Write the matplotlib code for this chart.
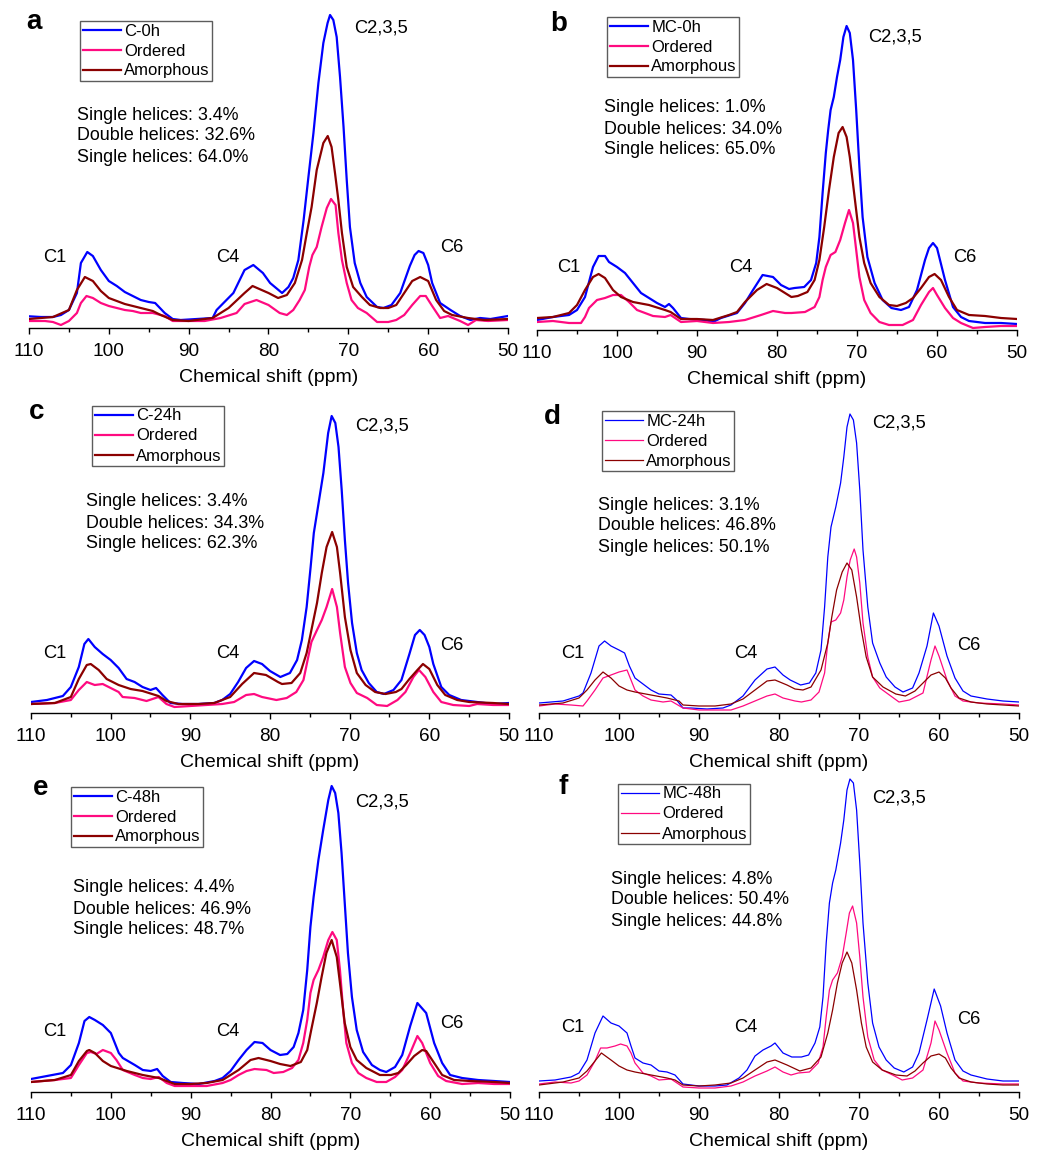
import matplotlib
matplotlib.use("Agg")
import matplotlib.pyplot as plt
import numpy as np

plt.rcParams['font.family'] = ['Liberation Sans', 'DejaVu Sans']

W, H = 1043, 1151

# intensities (a.u., height above the axis line)
a_sample = [(110, 11.7), (108.5, 11), (107, 11), (106, 13), (105, 18), (104, 35), (103.5, 65), (102.7, 76),
            (102, 72), (101, 58), (100, 47), (99, 42), (98, 36), (97, 32), (96, 28), (95, 26), (94.2, 25),
            (93, 15), (92, 9), (91, 8), (89, 9), (87, 10), (86.5, 18), (84.4, 35), (83, 58), (81.9, 63),
            (80.7, 55), (79.8, 45), (78.3, 35), (77.5, 41), (76.9, 50), (76.26, 68), (75.6, 108), (75.0, 151),
            (74.37, 195), (73.75, 245), (73.13, 285), (72.6, 305), (72.29, 313), (71.88, 308), (71.46, 291),
            (71.04, 251), (70.6, 201), (70.2, 148), (69.8, 101), (69.2, 65), (68.5, 45), (67.7, 31), (66.4, 21),
            (65.6, 20), (64.6, 23), (63.5, 35), (62.3, 62), (61.7, 73), (61.2, 77), (60.6, 75), (60, 63),
            (59.5, 45), (58.5, 25), (57.2, 18), (56, 12), (54.7, 8), (53.5, 10), (52.2, 9), (50, 12)]
a_ordered = [(110, 7), (108, 7), (107, 6), (106, 3), (105, 7), (104, 15), (103.5, 25), (102.8, 32), (102, 30),
             (101, 25), (100, 22), (98, 18), (97, 17), (96, 15), (94.5, 15), (93, 12), (92, 7), (90, 7), (88, 7),
             (86, 10), (84, 15), (83, 24), (81.5, 28), (80, 23), (78.6, 15), (77.7, 13), (76.9, 18), (76.1, 28),
             (75.45, 38), (74.9, 61), (74.5, 73), (73.96, 81), (73.35, 101), (72.7, 120), (72.17, 129),
             (71.6, 123), (71.25, 95), (70.8, 68), (70.2, 45), (69.6, 28), (68.8, 20), (67.7, 15), (66.4, 6),
             (65, 6), (64, 8), (63, 13), (62, 23), (61, 32), (60.3, 32), (59.5, 22), (58.5, 10), (57.5, 12),
             (56, 7), (55, 3), (54, 8), (52.5, 7), (50, 8)]
a_amorph = [(110, 9), (107, 11), (105, 18), (104, 38), (103, 51), (102, 47), (101, 37), (100, 30), (99, 27),
            (98, 24), (96, 20), (94.5, 17), (93.5, 13), (92, 8), (90, 7), (87, 10), (85, 20), (83, 35), (82, 42),
            (80, 35), (78.8, 30), (77.7, 33), (76.7, 45), (75.8, 68), (75.2, 95), (74.6, 121), (73.96, 158),
            (73.13, 185), (72.58, 192), (72.1, 181), (71.67, 155), (71.25, 128), (70.8, 95), (70.2, 61),
            (69.4, 41), (68.3, 31), (67.3, 23), (66, 20), (65, 20), (64, 23), (63, 35), (62, 47), (61, 51),
            (60, 47), (59, 28), (58, 17), (57, 13), (55, 10), (53, 8), (50, 9)]

b_sample = [(110, 10), (108, 13), (106, 15), (105, 20), (104, 33), (103, 63), (102.3, 74), (101.5, 74),
            (101, 68), (100, 63), (99, 57), (98, 47), (97, 37), (96, 32), (95, 27), (94, 23), (93.5, 26),
            (93, 22), (92, 12), (91, 11), (89, 10), (88, 8), (87, 12), (85, 17), (84, 27), (83, 40), (81.8, 55),
            (80.5, 53), (79.5, 45), (78.5, 41), (77.8, 42), (76.6, 43), (75.75, 50), (75.1, 67), (74.7, 93),
            (74.3, 137), (73.9, 177), (73.6, 200), (73.3, 220), (72.9, 233), (72.5, 253), (72.1, 270),
            (71.7, 293), (71.3, 304), (70.9, 297), (70.5, 270), (70.1, 220), (69.7, 163), (69.3, 113),
            (68.7, 73), (67.8, 47), (66.8, 30), (65.7, 22), (64.5, 20), (63.5, 23), (62.5, 40), (61.5, 70),
            (61, 82), (60.5, 87), (60, 82), (59, 50), (58, 23), (57, 13), (56, 9), (54, 7), (52, 7), (50, 6)]
b_ordered = [(110, 8), (108, 9), (106, 7), (104.5, 7), (104, 13), (103.5, 22), (102.5, 30), (101.5, 32),
             (100.5, 35), (99.5, 35), (98.5, 28), (97.5, 20), (96.5, 17), (95.5, 14), (94, 13), (93.3, 15),
             (92, 8), (90, 9), (88, 7), (86, 8), (84, 10), (82, 15), (80.5, 19), (79, 17), (78.2, 17),
             (76.5, 18), (75.3, 23), (74.7, 33), (74.3, 50), (73.9, 63), (73.3, 75), (72.7, 78), (72.1, 90),
             (71.5, 107), (71, 120), (70.5, 107), (70.1, 80), (69.7, 53), (69.1, 30), (68.3, 17), (67.2, 8),
             (66, 5), (64.3, 5), (63, 10), (62, 25), (61, 38), (60.5, 42), (60, 35), (59, 22), (58, 12), (57, 7),
             (55.5, 2), (54, 3), (52, 4), (50, 4)]
b_amorph = [(110, 12), (108, 13), (106, 17), (105, 25), (104, 40), (103, 53), (102.3, 56), (101.5, 52),
            (100.5, 40), (99.5, 33), (98, 28), (96, 25), (94, 20), (93.3, 18), (92, 11), (90, 11), (88, 10),
            (86, 15), (85, 18), (84, 28), (82.5, 40), (81.3, 46), (80, 42), (78.2, 33), (77.4, 34), (76.2, 38),
            (75.3, 50), (74.7, 70), (74.1, 103), (73.5, 140), (72.9, 173), (72.3, 197), (71.8, 203),
            (71.3, 193), (70.9, 173), (70.3, 133), (69.7, 93), (69.1, 67), (68.3, 47), (67.2, 33), (66, 25),
            (65, 24), (63.9, 27), (63, 32), (62, 42), (61, 53), (60.3, 56), (59.5, 50), (58.5, 33), (57.5, 20),
            (56, 15), (54, 14), (52, 12), (50, 11)]

c_sample = [(110, 11), (108, 13), (106, 17), (105, 26), (104, 46), (103.3, 69), (102.8, 74), (102, 66),
            (101, 59), (100, 53), (99, 45), (98, 34), (97, 31), (96, 26), (95, 23), (94.3, 25), (93.5, 18),
            (92.5, 10), (91, 9), (89, 9), (87, 10), (86, 13), (85, 19), (84, 31), (83, 45), (82, 52), (81, 49),
            (80, 42), (78.7, 36), (77.5, 40), (76.6, 53), (76, 73), (75.4, 106), (74.9, 146), (74.5, 180),
            (73.9, 210), (73.3, 240), (72.7, 280), (72.26, 297), (71.8, 290), (71.4, 266), (71, 223),
            (70.6, 173), (70.2, 130), (69.7, 90), (69.1, 60), (68.5, 43), (67.6, 30), (66.6, 21), (65.7, 19),
            (64.5, 23), (63.5, 33), (62.5, 59), (61.8, 78), (61.2, 83), (60.6, 78), (60, 66), (59.5, 49),
            (58.5, 26), (57.5, 18), (56, 13), (54, 11), (52, 9), (50, 10)]
c_ordered = [(110, 9), (107, 10), (105, 13), (104, 23), (103, 31), (102, 28), (101, 29), (100, 25), (99, 21),
             (98.5, 16), (97, 15), (95.5, 12), (94, 16), (93, 9), (92, 6), (90, 7), (88, 8), (86, 9), (84.5, 11),
             (83, 18), (82, 19), (81, 16), (79.2, 13), (77.9, 15), (76.7, 21), (75.8, 33), (75.2, 56),
             (74.8, 71), (74.1, 83), (73.5, 93), (72.9, 106), (72.2, 124), (71.6, 106), (71.2, 80), (70.6, 46),
             (69.9, 30), (69.1, 20), (67.8, 15), (66.6, 8), (65.3, 7), (64, 13), (63, 21), (62, 36), (61.3, 43),
             (60.5, 36), (59.5, 21), (58.5, 11), (57, 8), (55, 7), (54, 9), (52, 8), (50, 8)]
c_amorph = [(110, 9), (107, 10), (105, 16), (104, 34), (103, 48), (102.5, 49), (101.5, 43), (100.5, 34),
            (99, 28), (97.5, 24), (96, 22), (94, 17), (93, 12), (91.5, 9), (89, 9), (87, 10), (85, 16),
            (83.5, 29), (82, 40), (80.5, 38), (79, 31), (78.5, 29), (77.3, 30), (76.2, 40), (75.4, 60),
            (74.8, 83), (74.1, 110), (73.5, 140), (72.9, 166), (72.2, 181), (71.6, 166), (71.2, 140),
            (70.6, 96), (69.9, 63), (69.1, 40), (68, 28), (66.8, 21), (65.5, 19), (64.2, 21), (63.5, 24),
            (62.5, 34), (61.5, 43), (60.8, 49), (60, 44), (59, 28), (58, 18), (56.5, 13), (55, 11), (52, 10),
            (50, 9)]

d_sample = [(110, 10), (107, 12), (105, 17), (104.5, 20), (103.5, 40), (102.5, 67), (101.8, 72), (101, 67),
            (100, 63), (99.3, 60), (98.7, 47), (98, 35), (97, 29), (96, 23), (95, 19), (93.5, 18), (92.8, 13),
            (92, 5), (91, 5), (89, 4), (87, 5), (86, 8), (84.5, 17), (83, 33), (81.5, 44), (80.5, 46),
            (79.5, 38), (78.6, 33), (77.3, 28), (76.2, 30), (75.4, 40), (74.75, 63), (74.3, 106), (73.9, 156),
            (73.5, 186), (72.9, 206), (72.3, 230), (71.9, 256), (71.5, 286), (71.13, 299), (70.7, 293),
            (70.3, 270), (69.9, 223), (69.5, 163), (68.9, 106), (68.3, 70), (67.4, 50), (66.6, 36), (65.5, 26),
            (64.5, 21), (63.3, 25), (62.5, 40), (61.5, 67), (60.7, 100), (60, 87), (59, 57), (58, 35), (57, 22),
            (56, 17), (54, 14), (52, 12), (50, 11)]
d_ordered = [(110, 7), (108, 9), (106, 8), (104.5, 7), (104, 12), (103, 23), (102, 35), (101, 38), (100, 41),
             (99, 43), (98.5, 33), (98, 23), (97, 17), (96, 13), (94.5, 11), (93.5, 12), (92, 5), (90, 3),
             (88, 3), (86, 3), (84.5, 7), (83, 12), (81.5, 17), (80.5, 19), (79.5, 15), (78, 12), (77.2, 11),
             (76, 13), (75, 21), (74.3, 40), (73.9, 70), (73.5, 91), (72.9, 93), (72.3, 100), (71.9, 113),
             (71.5, 136), (71.1, 153), (70.6, 164), (70.3, 156), (69.9, 130), (69.5, 90), (68.9, 56),
             (68.3, 36), (67.4, 25), (66.2, 18), (65, 11), (63.7, 13), (62, 20), (61, 53), (60.5, 67), (60, 57),
             (59, 33), (58, 17), (57, 12), (55, 10), (52, 9), (50, 8)]
d_amorph = [(110, 8), (107, 10), (105, 15), (104, 23), (103, 33), (102, 41), (101, 35), (100, 27), (99, 23),
            (98, 21), (96, 18), (94, 15), (92.5, 12), (92, 8), (90, 7), (88, 7), (86, 9), (84.5, 14), (83, 23),
            (81.5, 32), (80.5, 33), (79, 28), (78, 24), (77, 23), (76, 26), (74.75, 43), (73.9, 70),
            (73.4, 96), (72.8, 123), (72.1, 141), (71.5, 150), (70.9, 143), (70.3, 116), (69.7, 83), (69.1, 56),
            (68.3, 36), (67, 26), (65.4, 19), (64.2, 17), (63, 22), (62, 30), (61, 38), (60, 41), (59.2, 35),
            (58.5, 25), (57.5, 15), (56, 11), (54, 9), (52, 8), (50, 7)]

e_sample = [(110, 13), (108, 16), (106, 19), (105, 27), (104, 49), (103.3, 71), (102.7, 75), (102, 72),
            (101, 67), (100, 59), (99, 39), (98.5, 34), (97, 27), (96, 22), (95, 21), (94.2, 23), (93.5, 16),
            (92.5, 10), (91, 9), (89, 8), (87, 11), (86, 14), (85, 21), (84, 32), (83, 42), (82, 50), (81, 49),
            (80, 42), (78.8, 37), (77.9, 38), (77.1, 45), (76.5, 59), (75.9, 82), (75.4, 122), (75.0, 165),
            (74.6, 195), (74.0, 232), (73.4, 262), (72.76, 292), (72.34, 306), (71.9, 299), (71.5, 279),
            (71.1, 239), (70.7, 189), (70.3, 139), (69.8, 95), (69.2, 62), (68.4, 40), (67.3, 27), (66.3, 22),
            (65.5, 20), (64.4, 25), (63.5, 37), (62.5, 66), (61.6, 89), (60.5, 79), (59.5, 49), (58.5, 29),
            (57.5, 17), (56, 14), (54, 12), (52, 11), (50, 10)]
e_ordered = [(110, 10), (107, 12), (105, 14), (104, 27), (103, 39), (102.5, 40), (101.8, 38), (101, 42),
             (100, 39), (99.3, 32), (98.5, 22), (97, 17), (96, 14), (95, 13), (94, 15), (93, 9), (92, 6),
             (90, 6), (88, 6), (86, 9), (85, 12), (84, 17), (83, 21), (82, 23), (80.5, 22), (79.6, 19),
             (78.4, 20), (77.3, 24), (76.5, 32), (75.9, 49), (75.4, 72), (75.0, 99), (74.6, 112), (74.0, 122),
             (73.4, 135), (72.76, 152), (72.25, 160), (71.7, 152), (71.3, 122), (70.9, 82), (70.5, 49),
             (69.8, 29), (69, 19), (68, 14), (66.7, 10), (65.5, 10), (64.4, 15), (63.5, 22), (62.5, 39),
             (61.6, 56), (61, 49), (60, 29), (59, 16), (58, 11), (56, 8), (54, 9), (52, 8), (50, 8)]
e_amorph = [(110, 10), (107, 12), (105, 17), (104, 31), (103, 41), (102.7, 42), (102, 39), (101, 31),
            (100, 26), (98, 21), (96, 17), (94, 14), (93, 11), (92, 8), (90, 8), (88, 9), (86, 12), (84, 22),
            (82.5, 32), (81.5, 34), (80, 31), (78.8, 28), (77.5, 26), (76.2, 30), (75.4, 42), (74.9, 62),
            (74.2, 89), (73.6, 115), (73, 139), (72.34, 152), (71.7, 135), (71.3, 109), (70.7, 69), (70, 45),
            (69.2, 32), (68, 24), (66.3, 17), (64.9, 17), (64, 19), (63, 27), (62, 36), (61, 42), (60.5, 41),
            (59.5, 29), (58.5, 17), (57, 12), (55, 11), (52, 10), (50, 9)]

f_sample = [(110, 11), (108, 12), (106, 15), (105, 19), (104, 32), (103, 59), (102, 76), (101, 69), (100, 66),
            (99, 59), (98.5, 46), (98, 34), (97, 29), (96, 27), (95, 21), (94, 20), (93, 17), (92, 8), (90, 6),
            (88, 6), (86.5, 7), (85, 14), (84, 22), (83, 36), (82, 42), (81, 46), (80.5, 49), (79.5, 39),
            (78.4, 35), (77.2, 35), (76.3, 37), (75.5, 49), (74.9, 65), (74.5, 95), (74.1, 149), (73.7, 189),
            (73.3, 209), (72.9, 222), (72.3, 249), (71.9, 272), (71.5, 302), (71.13, 313), (70.7, 309),
            (70.3, 282), (69.9, 229), (69.5, 169), (68.9, 109), (68.3, 69), (67.5, 45), (66.6, 32), (65.6, 24),
            (64.4, 20), (63.3, 25), (62.5, 39), (61.5, 72), (60.6, 103), (59.8, 86), (59, 59), (58, 32),
            (57, 21), (56, 17), (54, 13), (52, 11), (50, 11)]
f_ordered = [(110, 8), (108, 10), (106, 9), (105, 11), (104, 17), (103, 31), (102.3, 44), (101.5, 44),
             (100.5, 46), (99.8, 48), (99, 46), (98.5, 39), (98, 29), (97, 19), (96, 16), (95, 12), (93.5, 13),
             (92, 5), (90, 4), (88, 4), (86, 6), (84.5, 10), (83, 16), (81.5, 21), (80.5, 25), (79.5, 20),
             (78.5, 17), (77.6, 19), (76.2, 20), (75.1, 29), (74.5, 45), (74.1, 75), (73.7, 102), (73.3, 112),
             (72.7, 119), (72.1, 135), (71.6, 159), (71.2, 179), (70.8, 186), (70.3, 169), (69.9, 135),
             (69.5, 95), (68.9, 55), (68.1, 32), (67.1, 22), (65.8, 17), (64.6, 12), (63.3, 14), (62, 22),
             (61, 49), (60.5, 71), (60, 62), (59, 39), (58, 19), (57, 11), (55, 9), (52, 8), (50, 8)]
f_amorph = [(110, 7), (107, 10), (105, 14), (104, 21), (103, 31), (102.2, 39), (101, 32), (100, 26), (99, 22),
            (98, 20), (96, 17), (94, 14), (93, 12), (92, 7), (90, 6), (88, 7), (86, 9), (84.5, 14), (83, 22),
            (81.5, 30), (80.5, 32), (79, 27), (77.4, 21), (76, 24), (74.75, 35), (73.9, 59), (73.3, 82),
            (72.7, 109), (72.1, 129), (71.5, 140), (70.9, 129), (70.3, 102), (69.7, 69), (69.1, 45), (68.3, 30),
            (67.1, 22), (65.4, 17), (64, 16), (63, 21), (62, 29), (61, 36), (60, 38), (59.2, 34), (58.5, 24),
            (57.5, 14), (56, 10), (54, 8), (52, 7), (50, 7)]

letters = ['a', 'b', 'c', 'd', 'e', 'f']
sample_names = ['C-0h', 'MC-0h', 'C-24h', 'MC-24h', 'C-48h', 'MC-48h']
single = ['3.4', '1.0', '3.4', '3.1', '4.4', '4.8']
double = ['32.6', '34.0', '34.3', '46.8', '46.9', '50.4']
single2 = ['64.0', '65.0', '62.3', '50.1', '48.7', '44.8']
spectra = [(a_sample, a_ordered, a_amorph), (b_sample, b_ordered, b_amorph),
           (c_sample, c_ordered, c_amorph), (d_sample, d_ordered, d_amorph),
           (e_sample, e_ordered, e_amorph), (f_sample, f_ordered, f_amorph)]

# layout in pixels: axes (left, right, bottom, top), legend corner, text spots
boxes = [(29, 508, 328, 5), (537, 1017, 330, 5), (31, 509, 713, 388),
         (539, 1019, 713, 388), (31, 510, 1092, 767), (539, 1019, 1092, 767)]
leg_pos = [(80, 21), (607, 17), (92, 406), (602, 411), (71, 787), (618, 784)]
info_pos = [(77, 115), (604, 108), (86, 502), (598, 505), (73, 888), (611, 879)]
letter_pos = [(34, 22), (559, 24), (37, 412), (552, 417), (41, 788), (563, 787)]
c1_pos = [(55, 257), (569, 267), (55, 654), (573, 653), (55, 1031), (573, 1027)]
c4_pos = [(228, 257), (741, 267), (228, 654), (746, 653), (228, 1031), (746, 1027)]
c235_pos = [(354, 28), (868, 37), (355, 426), (872, 423), (355, 802), (872, 798)]
c6_pos = [(452, 248), (965, 257), (452, 646), (969, 645), (452, 1023), (969, 1019)]
widths = [1.6, 1.6, 1.6, 0.9, 1.6, 0.9]

blue = '#0000FF'
pink = '#FF0A80'
wine = '#8B0000'


def fx(x):
    return x / W


def fy(y):
    return 1 - y / H


fig = plt.figure(figsize=(W / 100, H / 100), dpi=100)

for i in range(6):
    l, r, b, t = boxes[i]
    ax = fig.add_axes([fx(l), fy(b), (r - l) / W, (b - t) / H])
    sam, ordd, amo = spectra[i]
    lw = widths[i]
    for data, col, lab in [(sam, blue, sample_names[i]), (ordd, pink, 'Ordered'), (amo, wine, 'Amorphous')]:
        arr = np.array(data)
        ax.plot(arr[:, 0], arr[:, 1], color=col, lw=lw, label=lab, solid_joinstyle='round')
    ax.set_xlim(110, 50)
    ax.set_ylim(0, b - t)
    for s in ['left', 'right', 'top']:
        ax.spines[s].set_visible(False)
    ax.spines['bottom'].set_linewidth(1.0)
    ax.set_yticks([])
    ax.set_xticks([110, 100, 90, 80, 70, 60, 50])
    ax.set_xticks([105, 95, 85, 75, 65, 55], minor=True)
    ax.tick_params(axis='x', which='major', direction='out', length=4, width=1.0, labelsize=13.7, pad=6.5)
    ax.tick_params(axis='x', which='minor', direction='out', length=3, width=1.0)
    ax.set_xlabel('Chemical shift (ppm)', fontsize=14, labelpad=7)
    ax.patch.set_alpha(0)

    lx, ly = leg_pos[i]
    leg = ax.legend(loc='upper left', bbox_to_anchor=(fx(lx), fy(ly)), bbox_transform=fig.transFigure,
                    borderaxespad=0, fontsize=12, frameon=True, fancybox=False, handlelength=2.3,
                    handletextpad=0.2, labelspacing=0.3, borderpad=0.15)
    leg.get_frame().set_edgecolor('#333333')
    leg.get_frame().set_linewidth(1.0)

    ix, iy = info_pos[i]
    lines = ['Single helices: %s%%' % single[i], 'Double helices: %s%%' % double[i],
             'Single helices: %s%%' % single2[i]]
    for k, txt in enumerate(lines):
        fig.text(fx(ix), fy(iy + 21 * k), txt, fontsize=12.9, ha='left', va='center')

    fig.text(fx(letter_pos[i][0]), fy(letter_pos[i][1]), letters[i], fontsize=20, fontweight='bold',
             ha='center', va='center')
    fig.text(fx(c1_pos[i][0]), fy(c1_pos[i][1]), 'C1', fontsize=13.2, ha='center', va='center')
    fig.text(fx(c4_pos[i][0]), fy(c4_pos[i][1]), 'C4', fontsize=13.2, ha='center', va='center')
    fig.text(fx(c235_pos[i][0]), fy(c235_pos[i][1]), 'C2,3,5', fontsize=13.2, ha='left', va='center')
    fig.text(fx(c6_pos[i][0]), fy(c6_pos[i][1]), 'C6', fontsize=13.2, ha='center', va='center')

fig.savefig('out.png', dpi=100)
